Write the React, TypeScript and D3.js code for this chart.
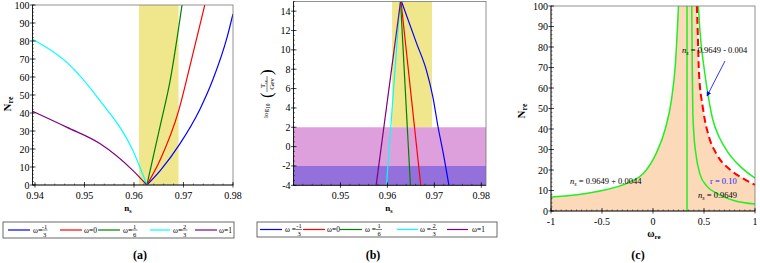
import React from "react";
import * as d3 from "d3";

// ---- panel (a): N_re vs n_s
const bandLo = 0.961;
const bandHi = 0.969;
const aBlue: [number, number][] = [[0.9626, 0], [0.9653, 8], [0.9693, 23], [0.9733, 42], [0.976, 59], [0.9788, 82], [0.98, 95]];
const aRed: [number, number][] = [[0.9626, 0], [0.9653, 14], [0.9691, 42], [0.9713, 66], [0.9743, 100]];
const aGreen: [number, number][] = [[0.9626, 0], [0.9653, 33], [0.9673, 58], [0.9697, 100]];
const aCyan: [number, number][] = [[0.9395, 81], [0.9465, 68], [0.9531, 47], [0.9598, 19], [0.9626, 0]];
const aPurple: [number, number][] = [[0.9395, 41], [0.9465, 32], [0.9531, 23], [0.9598, 8], [0.9626, 0]];

// ---- panel (b): log10(T_re/GeV) vs n_s
const bBlue: [number, number][] = [[0.963, 15], [0.9662, 10.7], [0.9683, 7.9], [0.9697, 5.1], [0.9708, 2], [0.9719, -0.7], [0.9731, -4]];
const bRed: [number, number][] = [[0.9629, 15], [0.9671, -4]];
const bGreen: [number, number][] = [[0.9628, 15], [0.9649, -4]];
const bCyan: [number, number][] = [[0.9627, 15], [0.9598, -4]];
const bPurple: [number, number][] = [[0.9628, 15], [0.9576, -4]];
const pinkBand = [-2, 2];
const violetBand = [-4, -2];

// ---- panel (c): N_re vs w_re
const cLeft: [number, number][] = [[-1, 6.8], [-0.56, 9.4], [-0.22, 14.3], [-0.1, 18], [0.03, 28], [0.12, 40], [0.18, 54], [0.22, 72], [0.25, 100]];
const cInner: [number, number][] = [[0.38, 100], [0.385, 70], [0.39, 50], [0.4, 38], [0.42, 28], [0.46, 18], [0.53, 12], [0.63, 8.5], [0.8, 5], [1, 3.4]];
const cRed: [number, number][] = [[0.43, 100], [0.44, 85], [0.45, 68], [0.49, 50], [0.55, 36], [0.62, 28], [0.76, 20], [0.88, 16], [1, 12.7]];
const cOuter: [number, number][] = [[0.445, 100], [0.46, 88], [0.5, 70], [0.535, 58], [0.584, 45], [0.65, 36], [0.73, 29], [0.85, 22], [1, 16]];
const wVertical = 1 / 3;

const ticksA = [0.94, 0.95, 0.96, 0.97, 0.98];
const ticksB = [0.95, 0.96, 0.97, 0.98];
const ticksC = [-1, -0.5, 0, 0.5, 1];
const ticksN = d3.range(0, 101, 10);
const ticksT = d3.range(-4, 15, 2);

const legendItems = [
  { color: "#0000ff", num: "-1", den: "3", label: "" },
  { color: "#ff0000", num: "", den: "", label: "0" },
  { color: "#008000", num: "1", den: "6", label: "" },
  { color: "#00ffff", num: "2", den: "3", label: "" },
  { color: "#800080", num: "", den: "", label: "1" },
];

const serif = "'Liberation Serif', 'DejaVu Serif', serif";

type Sc = d3.ScaleLinear<number, number>;

function Axes({ x, y, xt, yt, xMinor, yMinor, xfmt, yfmt, labelDy }: {
  x: Sc; y: Sc; xt: number[]; yt: number[]; xMinor: number[]; yMinor: number[];
  xfmt: (v: number) => string; yfmt: (v: number) => string; labelDy: number;
}) {
  const [x0, x1] = x.range();
  const [y0, y1] = y.range();
  return (
    <g fontFamily={serif} fontSize={10} fill="#000">
      <rect x={x0} y={y1} width={x1 - x0} height={y0 - y1} fill="none" stroke="#777" strokeWidth={0.8} />
      <line x1={x0} x2={x1} y1={y0} y2={y0} stroke="#000" strokeWidth={0.8} />
      <line x1={x0} x2={x0} y1={y0} y2={y1} stroke="#000" strokeWidth={0.8} />
      {xMinor.map((v, i) => (
        <line key={"xm" + i} x1={x(v)} x2={x(v)} y1={y0} y2={y0 - 1.5} stroke="#000" strokeWidth={0.5} />
      ))}
      {yMinor.map((v, i) => (
        <line key={"ym" + i} x1={x0} x2={x0 + 1.5} y1={y(v)} y2={y(v)} stroke="#000" strokeWidth={0.5} />
      ))}
      {xt.map((v) => (
        <g key={"xt" + v}>
          <line x1={x(v)} x2={x(v)} y1={y0 + 2.5} y2={y0 - 3} stroke="#000" strokeWidth={0.7} />
          <text x={x(v)} y={y0 + labelDy} textAnchor="middle">{xfmt(v)}</text>
        </g>
      ))}
      {yt.map((v) => (
        <g key={"yt" + v}>
          <line x1={x0 - 2.5} x2={x0 + 3} y1={y(v)} y2={y(v)} stroke="#000" strokeWidth={0.7} />
          <text x={x0 - 3} y={y(v) + 3.5} textAnchor="end">{yfmt(v)}</text>
        </g>
      ))}
    </g>
  );
}

function Legend({ x0, x1, y0, y1, lines, texts, spaced }: {
  x0: number; x1: number; y0: number; y1: number; lines: [number, number][]; texts: number[]; spaced: boolean;
}) {
  const cy = (y0 + y1) / 2;
  return (
    <g fontFamily={serif} fontSize={7.5}>
      <rect x={x0} y={y0} width={x1 - x0} height={y1 - y0} fill="#fff" stroke="#444" strokeWidth={0.8} />
      {legendItems.map((it, i) => {
        const tx = texts[i];
        const eq = spaced && it.num ? "ω = " : "ω=";
        return (
          <g key={i}>
            <line x1={lines[i][0]} x2={lines[i][1]} y1={cy} y2={cy} stroke={it.color} strokeWidth={1.2} />
            <text x={tx} y={cy + 2.5}>{eq}{it.label}</text>
            {it.num && (
              <g textAnchor="middle" fontSize={6.5}>
                <text x={tx + (spaced ? 14 : 11.5)} y={cy - 1.5}>{it.num}</text>
                <line x1={tx + (spaced ? 11 : 8.5)} x2={tx + (spaced ? 17 : 14.5)} y1={cy} y2={cy} stroke="#000" strokeWidth={0.5} />
                <text x={tx + (spaced ? 14 : 11.5)} y={cy + 6.5}>{it.den}</text>
              </g>
            )}
          </g>
        );
      })}
    </g>
  );
}

export default function App() {
  // panel (a)
  const xa = d3.scaleLinear().domain([0.9395, 0.98]).range([32.5, 233]);
  const ya = d3.scaleLinear().domain([0, 100]).range([185, 5]);
  const la = d3.line<[number, number]>().x((d) => xa(d[0])).y((d) => ya(d[1])).curve(d3.curveMonotoneX);
  // panel (b)
  const xb = d3.scaleLinear().domain([0.94, 0.981]).range([293.5, 486]);
  const yb = d3.scaleLinear().domain([-4, 15]).range([185.3, 1.5]);
  const lb = d3.line<[number, number]>().x((d) => xb(d[0])).y((d) => yb(d[1])).curve(d3.curveMonotoneY);
  const lbBlue = d3.line<[number, number]>().x((d) => xb(d[0])).y((d) => yb(d[1])).curve(d3.curveMonotoneX);
  // panel (c)
  const xc = d3.scaleLinear().domain([-1, 1]).range([551, 755]);
  const yc = d3.scaleLinear().domain([0, 100]).range([211, 6]);
  const lc = d3.line<[number, number]>().x((d) => xc(d[0])).y((d) => yc(d[1])).curve(d3.curveMonotoneX);

  const leftPath = lc(cLeft) || "";
  const redPath = lc(cRed) || "";
  const fillPath = `M${xc(-1)},${yc(0)}` + leftPath.replace("M", "L") + redPath.replace("M", "L") + `L${xc(1)},${yc(0)}Z`;

  const fmt2 = (v: number) => v.toFixed(2);
  const fmtC = (v: number) => (v === 0 ? "0" : v === 1 ? "1" : v === -1 ? "-1" : v.toString());

  const aSeries = [aBlue, aRed, aGreen, aCyan, aPurple];
  const bSeries = [bBlue, bRed, bGreen, bCyan, bPurple];
  const colors = legendItems.map((d) => d.color);

  return (
    <svg width={760} height={263} style={{ position: "absolute", left: 0, top: 0, background: "#fff" }}>
      <defs>
        <clipPath id="ca"><rect x={32.5} y={5} width={200.5} height={180} /></clipPath>
        <clipPath id="cb"><rect x={293.5} y={1.5} width={192.5} height={183.8} /></clipPath>
        <clipPath id="cc"><rect x={551} y={6} width={206} height={205} /></clipPath>
        <marker id="arr" viewBox="0 0 10 10" refX={9} refY={5} markerWidth={6} markerHeight={6} orient="auto">
          <path d="M0,0L10,5L0,10Z" fill="#0000ff" />
        </marker>
      </defs>

      {/* ---------- (a) ---------- */}
      <rect x={xa(bandLo)} y={ya(100)} width={xa(bandHi) - xa(bandLo)} height={ya(0) - ya(100)} fill="#f0e68c" />
      <g clipPath="url(#ca)" fill="none" strokeWidth={1.2}>
        {aSeries.map((s, i) => <path key={i} d={la(s) || ""} stroke={colors[i]} />)}
      </g>
      <Axes x={xa} y={ya} xt={ticksA} yt={ticksN} xMinor={d3.range(0.94, 0.9801, 0.002)} yMinor={d3.range(0, 101, 2)}
        xfmt={fmt2} yfmt={(v) => String(v)} labelDy={14} />
      <text x={7} y={100} transform="rotate(-90 11 100)" fontFamily={serif} fontWeight="bold" fontSize={11} textAnchor="middle">
        N<tspan fontSize={8} dy={2}>re</tspan>
      </text>
      <text x={128} y={211} fontFamily={serif} fontWeight="bold" fontSize={9} textAnchor="middle">
        n<tspan fontSize={6} dy={2}>s</tspan>
      </text>
      <Legend x0={3} x1={234} y0={222} y1={238} lines={[[8, 30], [60, 82], [98, 120], [150, 170], [195, 217]]}
        texts={[33, 84, 123, 173, 219]} spaced={false} />
      <text x={140} y={259} fontFamily={serif} fontWeight="bold" fontSize={12} textAnchor="middle">(a)</text>

      {/* ---------- (b) ---------- */}
      <rect x={xb(bandLo)} y={yb(15)} width={xb(0.9695) - xb(bandLo)} height={yb(2) - yb(15)} fill="#f0e68c" />
      <rect x={xb(0.94)} y={yb(pinkBand[1])} width={xb(0.981) - xb(0.94)} height={yb(pinkBand[0]) - yb(pinkBand[1])} fill="#dda0dd" />
      <rect x={xb(0.94)} y={yb(violetBand[1])} width={xb(0.981) - xb(0.94)} height={yb(violetBand[0]) - yb(violetBand[1])} fill="#9370db" />
      <g clipPath="url(#cb)" fill="none" strokeWidth={1.2}>
        {bSeries.map((s, i) => <path key={i} d={(i === 0 ? lbBlue(s) : lb(s)) || ""} stroke={colors[i]} />)}
      </g>
      <Axes x={xb} y={yb} xt={ticksB} yt={ticksT} xMinor={d3.range(0.94, 0.9801, 0.002)} yMinor={d3.range(-4, 15.01, 0.5)}
        xfmt={fmt2} yfmt={(v) => String(v)} labelDy={14} />
      <g transform="translate(267 95) rotate(-90)" fontFamily={serif} fontSize={7}>
        <text x={-23} y={1}>log<tspan fontSize={5.5} dy={2}>10</tspan></text>
        <text x={-3} y={5} fontSize={17}>(</text>
        <text x={11} y={-2} textAnchor="middle">T<tspan fontSize={5} dy={1.5}>re</tspan></text>
        <line x1={3} x2={19} y1={0} y2={0} stroke="#000" strokeWidth={0.5} />
        <text x={11} y={6.5} textAnchor="middle">Gev</text>
        <text x={20} y={5} fontSize={17}>)</text>
      </g>
      <text x={389} y={211} fontFamily={serif} fontWeight="bold" fontSize={9} textAnchor="middle">
        n<tspan fontSize={6} dy={2}>s</tspan>
      </text>
      <Legend x0={257} x1={497} y0={222} y1={237} lines={[[260, 282], [303, 325], [340, 362], [397, 418], [447, 468]]}
        texts={[285, 327, 365, 420, 472]} spaced={true} />
      <text x={373} y={259} fontFamily={serif} fontWeight="bold" fontSize={12} textAnchor="middle">(b)</text>

      {/* ---------- (c) ---------- */}
      <g clipPath="url(#cc)">
        <path d={fillPath} fill="#fcd9b8" />
        <path d={leftPath} fill="none" stroke="#22ee22" strokeWidth={1.5} />
        <path d={lc(cInner) || ""} fill="none" stroke="#22ee22" strokeWidth={1.5} />
        <path d={lc(cOuter) || ""} fill="none" stroke="#22ee22" strokeWidth={1.5} />
        <line x1={xc(wVertical)} x2={xc(wVertical)} y1={yc(0)} y2={yc(100)} stroke="#22ee22" strokeWidth={1.5} />
        <path d={redPath} fill="none" stroke="#ff0000" strokeWidth={2} strokeDasharray="7 4" />
      </g>
      <Axes x={xc} y={yc} xt={ticksC} yt={ticksN} xMinor={d3.range(-1, 1.001, 0.05)} yMinor={d3.range(0, 101, 2)}
        xfmt={fmtC} yfmt={(v) => String(v)} labelDy={14} />
      <text x={521} y={107} transform="rotate(-90 525 107)" fontFamily={serif} fontWeight="bold" fontSize={11} textAnchor="middle">
        N<tspan fontSize={8} dy={2}>re</tspan>
      </text>
      <text x={654} y={237} fontFamily={serif} fontWeight="bold" fontSize={10} textAnchor="middle">
        ω<tspan fontSize={7} dy={2}>re</tspan>
      </text>
      <g fontFamily={serif} fontSize={8.5}>
        <text x={682} y={53}><tspan fontStyle="italic">n</tspan><tspan fontSize={6} dy={2} fontStyle="italic">s</tspan><tspan dy={-2}> = 0.9649 - 0.004</tspan></text>
        <text x={570} y={184}><tspan fontStyle="italic">n</tspan><tspan fontSize={6} dy={2} fontStyle="italic">s</tspan><tspan dy={-2}> = 0.9649 + 0.0044</tspan></text>
        <text x={710} y={184} fill="#2020ff">r = 0.10</text>
        <text x={698} y={198}><tspan fontStyle="italic">n</tspan><tspan fontSize={6} dy={2} fontStyle="italic">s</tspan><tspan dy={-2}> = 0.9649</tspan></text>
      </g>
      <line x1={725} y1={61} x2={707} y2={96} stroke="#0000ff" strokeWidth={0.8} markerEnd="url(#arr)" />
      <text x={638} y={259} fontFamily={serif} fontWeight="bold" fontSize={12} textAnchor="middle">(c)</text>
    </svg>
  );
}
